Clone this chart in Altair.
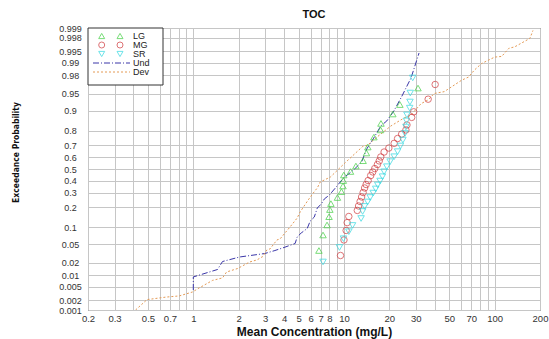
import altair as alt
import pandas as pd
from statistics import NormalDist

# ---- series: mean concentration (mg/L) and plotting probability ----
lg_conc = [6.82, 7.26, 7.72, 7.96, 8.06, 8.19, 9.05, 9.62, 9.85, 9.90, 9.97,
           11.05, 12.0, 13.4, 14.1, 14.4, 15.8, 17.5, 17.6, 21.1, 23.5, 31.0]
lg_prob = [0.037, 0.074, 0.110, 0.148, 0.187, 0.224, 0.266, 0.310, 0.355, 0.400, 0.448,
           0.478, 0.526, 0.572, 0.637, 0.685, 0.758, 0.804, 0.841, 0.886, 0.921, 0.962]

mg_conc = [9.48, 10.0, 10.34, 10.50, 10.77, 12.26, 12.50, 12.79, 13.09, 13.40,
           13.71, 14.03, 14.47, 15.04, 15.52, 16.0, 16.67, 17.14, 17.55, 18.46,
           19.85, 21.53, 22.69, 24.15, 25.77, 26.18, 28.15, 29.03, 36.2, 40.3]
mg_prob = [0.029, 0.060, 0.089, 0.120, 0.149, 0.182, 0.209, 0.238, 0.270, 0.303,
           0.339, 0.367, 0.400, 0.443, 0.474, 0.504, 0.539, 0.570, 0.604, 0.645,
           0.677, 0.713, 0.748, 0.778, 0.804, 0.833, 0.871, 0.895, 0.937, 0.968]

sr_conc = [7.26, 9.33, 9.92, 10.77, 11.40, 12.99, 13.30, 13.71, 14.36, 14.93,
           15.63, 16.24, 16.75, 17.36, 18.01, 18.46, 19.24, 20.24, 21.53, 22.69,
           23.70, 24.61, 25.41, 25.77, 25.99, 26.18, 27.3, 27.42, 27.55, 28.59]
sr_prob = [0.0208, 0.0427, 0.0633, 0.0847, 0.108, 0.139, 0.176, 0.206, 0.235, 0.266,
           0.299, 0.331, 0.363, 0.396, 0.433, 0.476, 0.520, 0.564, 0.606, 0.648,
           0.693, 0.737, 0.782, 0.821, 0.854, 0.882, 0.909, 0.929, 0.952, 0.977]

und_conc = [1.0, 1.0, 1.447, 1.563, 2.03, 2.985, 3.48, 4.0, 4.74, 4.89,
            5.20, 5.70, 5.97, 6.35, 6.65, 7.07, 7.41, 8.0, 8.77, 9.92,
            11.57, 13.09, 14.14, 15.75, 17.55, 19.24, 21.43, 24.25, 27.86, 31.5]
und_prob = [0.0040, 0.0090, 0.0138, 0.0213, 0.0269, 0.0320, 0.0370, 0.0427, 0.0513, 0.0681,
            0.0804, 0.0961, 0.127, 0.146, 0.196, 0.222, 0.256, 0.284, 0.339, 0.422,
            0.491, 0.561, 0.669, 0.751, 0.827, 0.854, 0.898, 0.945, 0.977, 0.9945]

dev_conc = [0.4137, 0.4924, 0.660, 0.806, 0.985, 1.097, 1.340, 1.563, 1.663, 1.970,
            2.370, 2.64, 2.894, 3.078, 3.224, 3.592, 3.761, 4.386, 4.887, 5.117,
            5.79, 6.25, 6.65, 6.96, 8.12, 10.23, 13.30, 14.36, 16.75, 20.47,
            25.0, 27.86, 29.17, 32.49, 36.19, 39.7, 46.3, 60.2, 67.0, 73.5,
            81.9, 100.0, 111.4, 124.1, 136.1, 171.4, 179.6]
dev_prob = [0.0010, 0.0021, 0.0025, 0.0027, 0.0035, 0.0046, 0.0073, 0.0085, 0.0120, 0.0146,
            0.0208, 0.0231, 0.0276, 0.0380, 0.0398, 0.060, 0.0625, 0.102, 0.141, 0.173,
            0.249, 0.299, 0.339, 0.388, 0.430, 0.557, 0.689, 0.700, 0.762, 0.827,
            0.868, 0.882, 0.896, 0.924, 0.935, 0.951, 0.955, 0.974, 0.978, 0.985,
            0.9896, 0.9929, 0.9932, 0.9959, 0.9963, 0.9979, 0.9988]

# ---- axis ticks ----
prob_ticks = [0.001, 0.002, 0.005, 0.01, 0.02, 0.05, 0.1, 0.2, 0.3, 0.4, 0.5,
              0.6, 0.7, 0.8, 0.9, 0.95, 0.98, 0.99, 0.995, 0.998, 0.999]
conc_grid = [0.2, 0.3, 0.4, 0.5, 0.6, 0.7, 0.8, 0.9, 1, 2, 3, 4, 5, 6, 7, 8, 9,
             10, 20, 30, 40, 50, 60, 70, 80, 90, 100, 200]
conc_labels = [0.2, 0.3, 0.5, 0.7, 1, 2, 3, 4, 5, 6, 7, 8, 10, 20, 30, 50, 70, 100, 200]

# colours per series
C_LG, C_MG, C_SR = "#3fcf3f", "#d0383c", "#2fd8e0"
C_UND, C_DEV = "#3a36a8", "#e49a55"

FONT = "Liberation Sans"
nd = NormalDist()


def frame(conc, prob):
    return pd.DataFrame({
        "conc": conc,
        "prob": prob,
        "z": [nd.inv_cdf(p) for p in prob],   # normal-probability (probit) position
        "order": list(range(len(conc))),
    })


z_lo, z_hi = nd.inv_cdf(0.001), nd.inv_cdf(0.999)

x_enc = alt.X(
    "conc:Q",
    scale=alt.Scale(type="log", domain=[0.2, 200], nice=False),
    axis=alt.Axis(
        values=conc_grid,
        labelExpr="indexof(" + str(conc_labels) + ", datum.value) >= 0 ? format(datum.value, '~g') : ''",
        labelOverlap=False, labelFlush=False, tickSize=0, domain=False,
        labelFont=FONT, labelFontSize=9.5, labelColor="#333", labelPadding=3,
        gridColor="#c6c6c6", gridWidth=1,
        title="Mean Concentration (mg/L)", titleFont=FONT, titleFontSize=12,
        titleFontWeight="bold", titleColor="#111", titleY=21, titleBaseline="middle",
    ),
)

y_enc = alt.Y(
    "z:Q",
    scale=alt.Scale(domain=[z_lo, z_hi], nice=False, zero=False),
    axis=alt.Axis(
        values=[nd.inv_cdf(p) for p in prob_ticks],
        labelExpr="format(cumulativeNormal(datum.value), '.3~f')",
        labelOverlap=False, labelFlush=False, tickSize=0, domain=False,
        labelFont=FONT, labelFontSize=9, labelColor="#333",
        labelAlign="center", labelPadding=18,
        gridColor="#c6c6c6", gridWidth=1,
        title="Exceedance Probability", titleFont="DejaVu Sans Condensed",
        titleFontSize=8.5, titleFontWeight="bold", titleColor="#111",
        titleX=-73, titleY=124, titleAngle=270, titleAlign="center", titleBaseline="middle",
    ),
)

und_line = alt.Chart(frame(und_conc, und_prob)).mark_line(
    color=C_UND, strokeWidth=1, strokeDash=[6, 2, 1, 2], clip=True
).encode(x=x_enc, y=y_enc, order="order:Q")

dev_line = alt.Chart(frame(dev_conc, dev_prob)).mark_line(
    color=C_DEV, strokeWidth=1, strokeDash=[2, 2], clip=True
).encode(x=x_enc, y=y_enc, order="order:Q")


def points(conc, prob, shape, color):
    return alt.Chart(frame(conc, prob)).mark_point(
        shape=shape, filled=False, color=color, size=42, strokeWidth=1, clip=True
    ).encode(x=x_enc, y=y_enc)


lg_pts = points(lg_conc, lg_prob, "triangle-up", C_LG)
mg_pts = points(mg_conc, mg_prob, "circle", C_MG)
sr_pts = points(sr_conc, sr_prob, "triangle-down", C_SR)

# ---- legend box in the upper-left corner of the plot ----
one = pd.DataFrame({"k": [0]})
legend_rows = [8, 17, 26, 35, 44]
legend_layers = [
    alt.Chart(one).mark_rect(fill="white", stroke="#333", strokeWidth=1).encode(
        x=alt.value(0), x2=alt.value(75), y=alt.value(0), y2=alt.value(57))
]
entries = [
    ("LG", "triangle-up", C_LG, legend_rows[0]),
    ("MG", "circle", C_MG, legend_rows[1]),
    ("SR", "triangle-down", C_SR, legend_rows[2]),
]
for name, shape, color, ypos in entries:
    for xs in (13.7, 32):
        legend_layers.append(
            alt.Chart(one).mark_point(shape=shape, filled=False, color=color, size=36,
                                      strokeWidth=1).encode(x=alt.value(xs), y=alt.value(ypos)))
for name, color, dash, ypos in [("Und", C_UND, [6, 2, 1, 2], legend_rows[3]),
                                ("Dev", C_DEV, [2, 2], legend_rows[4])]:
    legend_layers.append(
        alt.Chart(one).mark_rule(color=color, strokeWidth=1, strokeDash=dash).encode(
            x=alt.value(5), x2=alt.value(42), y=alt.value(ypos)))
for name, ypos in zip(["LG", "MG", "SR", "Und", "Dev"], legend_rows):
    legend_layers.append(
        alt.Chart(pd.DataFrame({"label": [name]})).mark_text(
            align="left", baseline="middle", font=FONT, fontSize=9, color="#222"
        ).encode(x=alt.value(45), y=alt.value(ypos), text="label:N"))

chart = alt.layer(
    und_line, dev_line, lg_pts, mg_pts, sr_pts, *legend_layers
).properties(
    width=452,
    height=282,
    autosize="none",
    padding={"left": 88, "top": 28, "right": 9, "bottom": 29},
    title=alt.TitleParams("TOC", font=FONT, fontSize=11, fontWeight="bold",
                          color="#111", anchor="middle", offset=5, dy=12,
                          baseline="bottom"),
).configure_view(stroke="#444", strokeWidth=1)

chart.save("out.html", embed_options={"renderer": "svg", "actions": False})
